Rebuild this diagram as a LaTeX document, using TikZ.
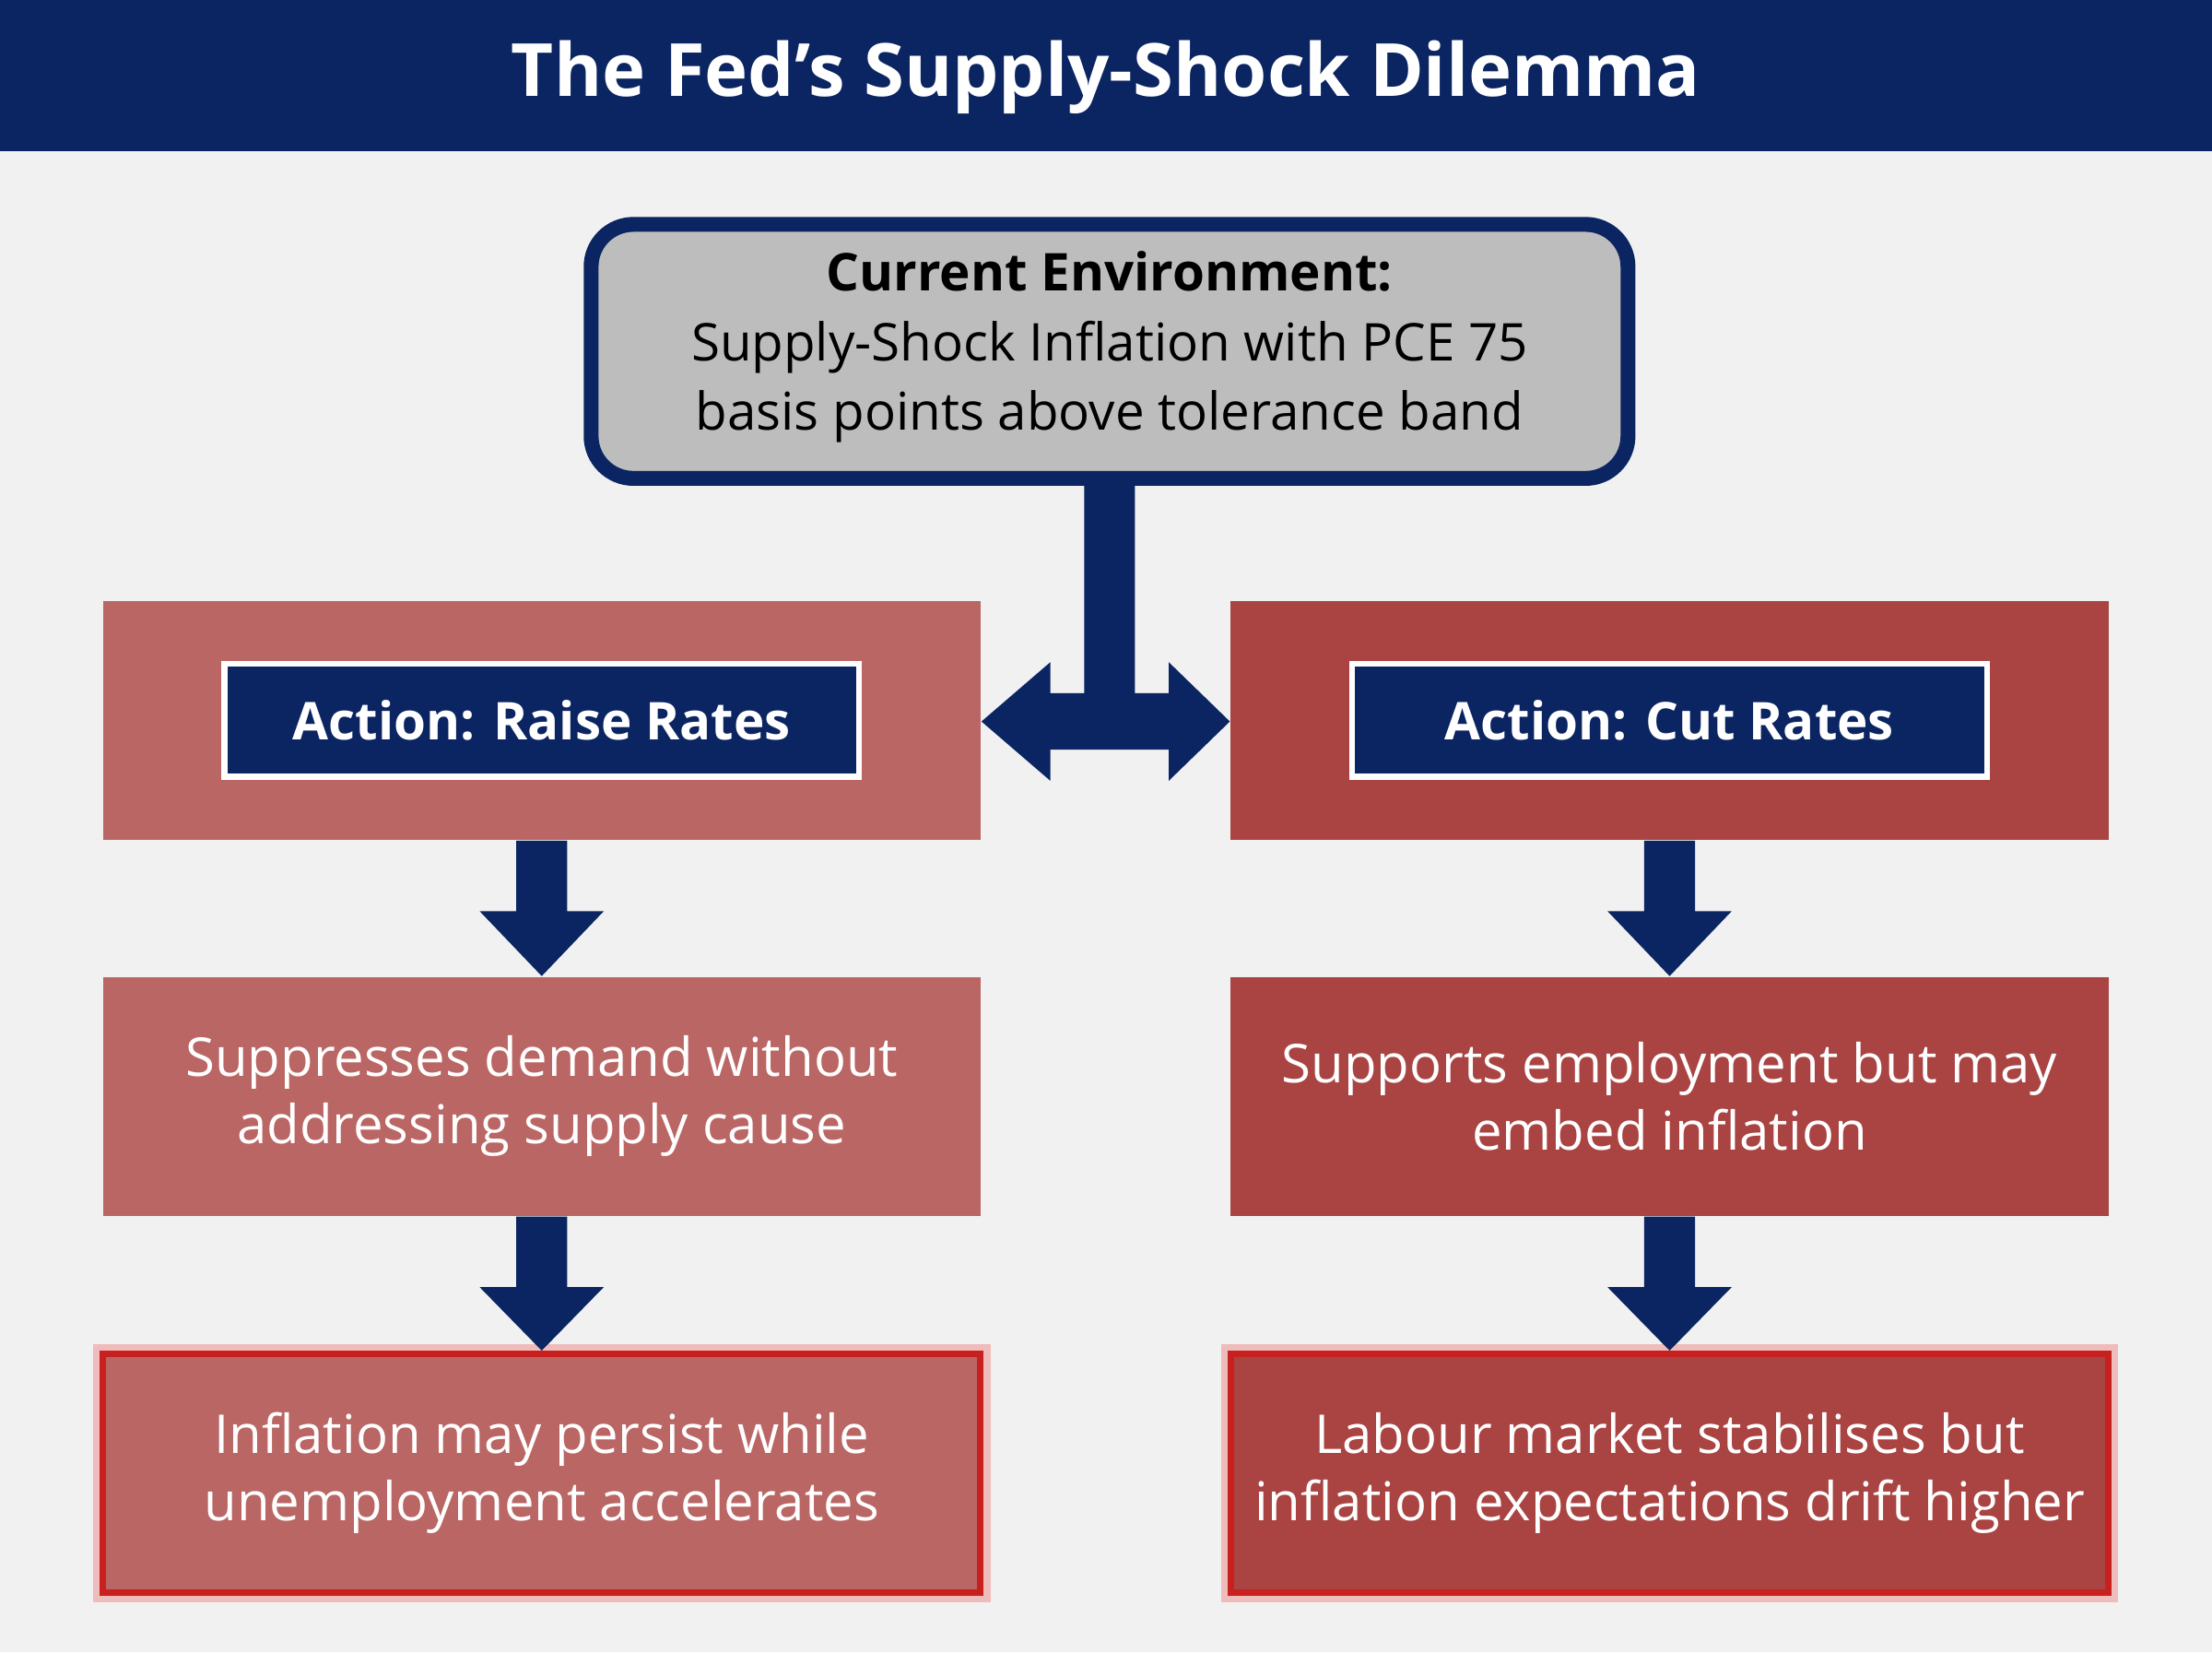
\documentclass[tikz,border=0pt]{standalone}
\usepackage{fontspec}
\setmainfont{Open Sans}
\usetikzlibrary{calc,positioning}

\definecolor{navy}{HTML}{0B2562}
\definecolor{bgray}{HTML}{F1F1F1}
\definecolor{envgray}{HTML}{BDBDBD}
\definecolor{raisered}{HTML}{BA6664}
\definecolor{cutred}{HTML}{A94442}
\definecolor{edgered}{HTML}{C8201E}

\tikzset{
  stage/.style={minimum width=6.22cm,minimum height=1.69cm,inner sep=0pt,align=center,
    font=\fontsize{10.8}{13.6}\selectfont,text=white},
  action/.style={draw=white,line width=1.2pt,fill=navy,minimum width=4.5cm,minimum height=0.8cm,
    inner sep=0pt,font=\fontsize{10.5}{12}\selectfont\bfseries,text=white},
  outcome/.style={stage,draw=edgered,line width=1.3pt,
    preaction={draw=edgered!30,line width=4pt}},
  blockarrow/.style={fill=navy}
}

\begin{document}
\begin{tikzpicture}
\useasboundingbox (0,0) rectangle (15.68,-11.71);
\fill[bgray] (0,0) rectangle (15.68,-11.71);
% title bar
\fill[navy] (0,0) rectangle (15.68,-1.07);
\node[text=white,font=\fontsize{14.8}{18}\selectfont\bfseries] (title) at (7.84,-0.55) {The Fed’s Supply-Shock Dilemma};

% environment box
\node[draw=navy,line width=3pt,fill=envgray,rounded corners=0.3cm,minimum width=7.35cm,minimum height=1.8cm,
  align=center,font=\fontsize{10.5}{14}\selectfont] (env) at (7.865,-2.49)
  {\textbf{Current Environment:}\\Supply-Shock Inflation with PCE 75\\basis points above tolerance band\strut};

% columns
\node[stage,fill=raisered] (raise) at (3.84,-5.105) {};
\node[stage,fill=cutred] (cut) at (11.835,-5.105) {};
\node[action] (raiselbl) at (raise) {Action: Raise Rates};
\node[action] (cutlbl) at (cut) {Action: Cut Rates};
\node[stage,fill=raisered,below=0.96cm of raise] (suppress) {Suppresses demand without\\addressing supply cause};
\node[stage,fill=cutred,below=0.96cm of cut] (support) {Supports employment but may\\embed inflation};
\node[outcome,fill=raisered,below=0.95cm of suppress] (persist) {Inflation may persist while\\unemployment accelerates};
\node[outcome,fill=cutred,below=0.95cm of support] (drift) {Labour market stabilises but\\inflation expectations drift higher};

% split arrow from environment
\coordinate (fork) at ($(env.south)+(0,-1.67)$);
\fill[blockarrow] ($(env.south)+(-0.18,0)$) -- ($(env.south)+(0.18,0)$) -- ($(fork)+(0.18,0.2)$)
  -- ($(fork)+(0.42,0.2)$) -- ($(fork)+(0.42,0.42)$) -- (cut.west |- fork) -- ($(fork)+(0.42,-0.42)$)
  -- ($(fork)+(0.42,-0.2)$) -- ($(fork)+(-0.42,-0.2)$) -- ($(fork)+(-0.42,-0.42)$) -- (raise.east |- fork)
  -- ($(fork)+(-0.42,0.42)$) -- ($(fork)+(-0.42,0.2)$) -- ($(fork)+(-0.18,0.2)$) -- cycle;

% down arrows
\foreach \a/\b in {raise/suppress,suppress/persist,cut/support,support/drift}{
  \fill[blockarrow] ($(\a.south)+(-0.18,0)$) -- ($(\a.south)+(0.18,0)$) -- ($(\a.south)+(0.18,-0.5)$)
    -- ($(\a.south)+(0.44,-0.5)$) -- (\b.north) -- ($(\a.south)+(-0.44,-0.5)$)
    -- ($(\a.south)+(-0.18,-0.5)$) -- cycle;
}
\end{tikzpicture}
\end{document}
